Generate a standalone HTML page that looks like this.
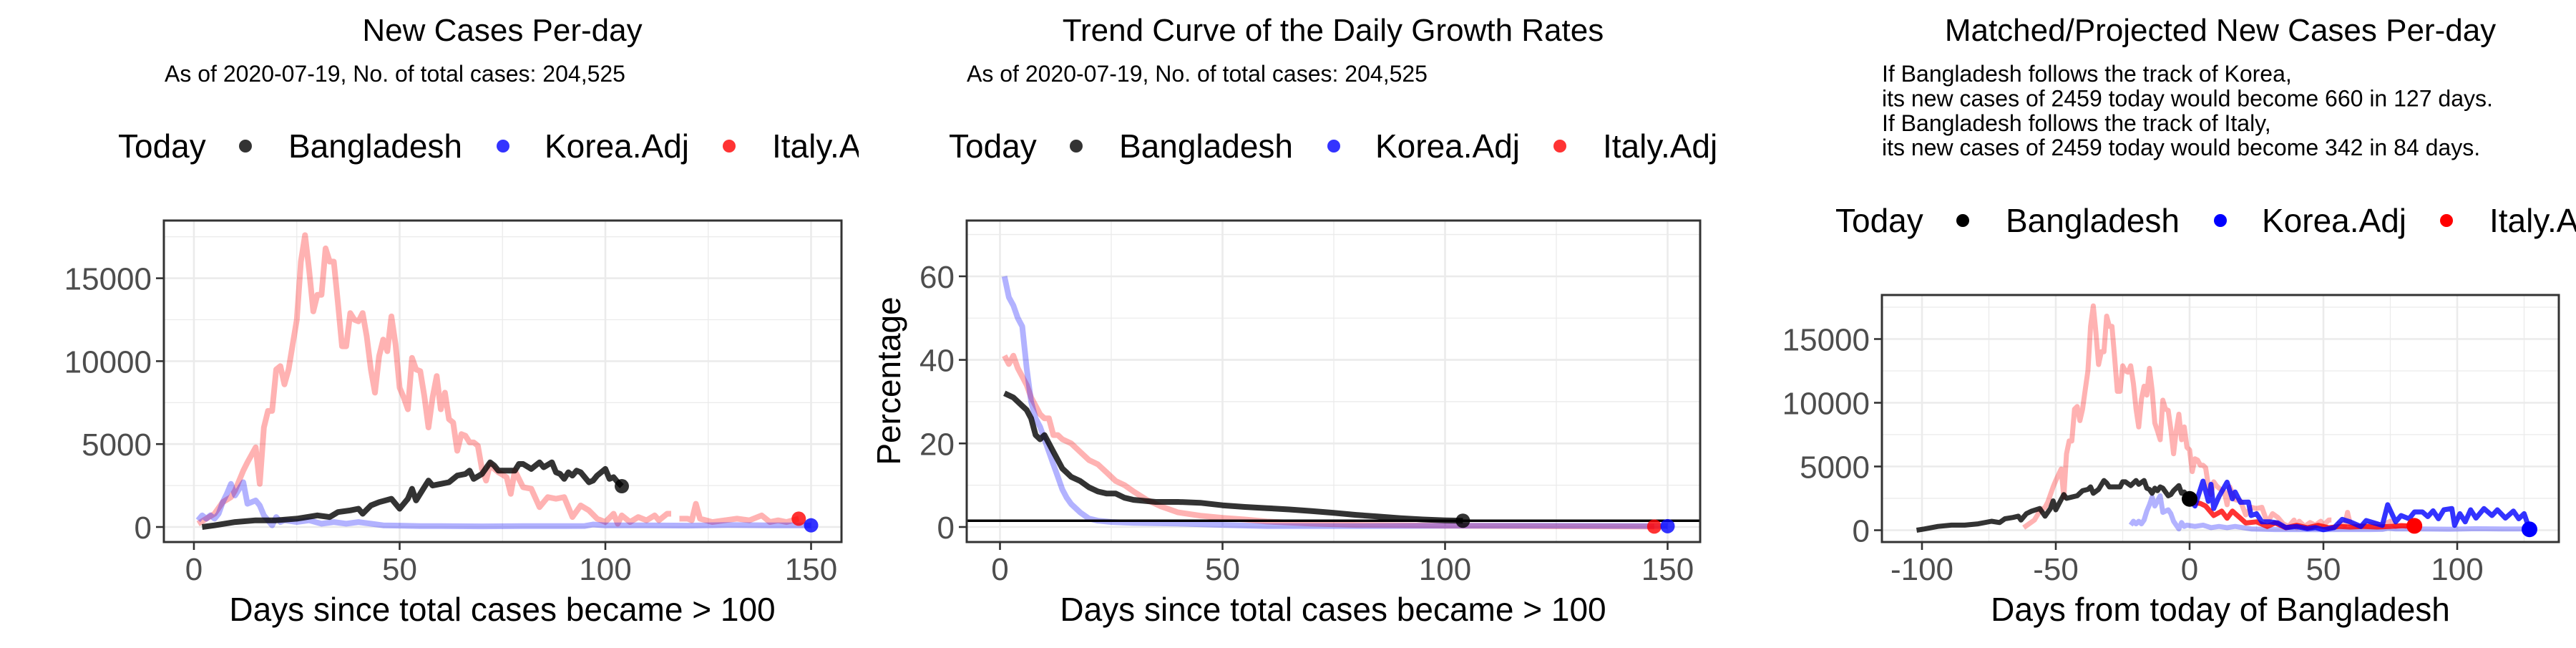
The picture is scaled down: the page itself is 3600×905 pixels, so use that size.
<!DOCTYPE html>
<html><head><meta charset="utf-8">
<style>
html,body{margin:0;padding:0;background:#fff;}
svg text{font-family:"Liberation Sans",Arial,sans-serif;}
</style></head>
<body>
<svg id="root" xmlns="http://www.w3.org/2000/svg" width="3600" height="900" viewBox="0 0 3600 900">
<rect x="0" y="0" width="3600" height="900" fill="#fff"/>
</svg>
<script>
// ---- Panel 1 data: new cases per day ----
const bdDays = [2,5,10,15,20,25,30,33,35,38,40,41,43,45,48,50,52,53,54,56,57,58,60,62,64,66,67,68,70,72,73,74,76,78,79,80,82,83,84,85,87,88,89,90,91,92,93,94,96,97,98,100,101,102,103,104];
const bdVals = [0,100,300,400,400,500,700,600,900,1000,1100,800,1300,1500,1700,1100,1700,2300,1600,2400,2800,2500,2600,2700,3100,3200,3400,2900,3200,3900,3700,3400,3400,3400,3800,3800,3500,3700,3900,3600,3900,3300,3200,2900,3300,3100,3400,3300,2700,2800,3100,3500,2900,3000,2700,2459];
const itDays = [1,3,5,7,9,10,12,13,15,16,17,18,19,20,21,22,23,24,25,26,27,28,29,30,31,32,33,34,35,36,37,38,39,40,41,42,43,44,45,46,47,48,49,50,51,52,53,54,55,56,57,58,59,60,61,62,63,64,65,66,67,68,69,70,71,72,73,74,76,77,78,80,82,84,86,88,90,92,94,96,98,100,102,103,104,106,108,110,112,113,115,116,117,118,120,121,122,123,126,129,132,135,138,140,142,144,147];
const itVals = [200,500,800,1500,1800,2200,3400,3900,4800,2600,6000,7000,7000,9500,9700,8600,9500,11000,12500,16000,17600,15500,13000,14000,14000,16800,16000,16000,13500,10900,10900,12900,12500,12400,12900,11500,9500,8100,10300,11300,10600,12700,11000,8400,7800,7100,10200,9500,9400,7900,6000,7800,9100,7100,8100,6500,6300,4600,5600,5500,5100,5100,4900,3500,2800,3800,3500,3300,3000,2000,3400,2400,2300,1200,1800,1700,1800,600,1300,1000,500,300,800,200,700,300,600,400,700,400,800,800,null,500,500,400,1400,500,300,400,500,400,700,300,400,300,500];
const koDays = [1,2,3,4,5,6,7,8,9,10,11,12,13,14,15,16,17,18,19,20,21,22,25,28,31,34,37,40,43,46,50,55,60,70,80,90,95,97,100,110,120,130,140,150];
const koVals = [400,700,500,700,500,800,1500,2000,2600,1900,2300,2700,1400,1500,1600,1300,700,400,100,600,300,400,300,400,200,300,200,300,200,100,80,50,50,40,50,50,60,150,100,100,80,120,100,100];
const casesTicks = [0,5000,10000,15000];
const dayTicks = [0,50,100,150];
// ---- Panel 2 data: growth rates (%) ----
const bdRateDays = [1,3,5,6,7,8,9,10,11,12,13,14,15,16,18,20,22,24,26,28,30,35,40,45,50,55,60,65,70,75,80,85,90,95,100,104];
const bdRate = [32,31,29,28,26,22,21,22,20,18,16,14,13,12,11,9.5,8.5,8,8,7,6.5,6,6,5.8,5.2,4.8,4.5,4.2,3.8,3.4,2.9,2.5,2.1,1.8,1.6,1.5];
const koRateDays = [1,2,3,4,5,6,7,8,9,10,11,12,13,14,15,16,17,18,20,22,25,30,40,50,60,80,100,120,150];
const koRate = [60,55,53,50,48,38,30,26,24,21,18,15,12,9,7,5.5,4.5,3.5,2,1.5,1.2,1,0.8,0.5,0.2,0.2,0.3,0.3,0.2];
const itRateDays = [1,2,3,4,5,6,7,8,9,10,11,12,13,14,16,18,20,22,24,26,28,30,33,36,40,45,50,55,60,70,80,100,120,147];
const itRate = [41,39,41,38,36,34,31,29,27,26,26,22,22,21,20,18,16,15,13,11,10,8.5,6.5,5,3.5,2.7,2.2,1.8,1.3,0.8,0.5,0.3,0.2,0.1];
const rateTicks = [0,20,40,60];
const refRate = 1.5;
// ---- Panel 3 data: matched / projected ----
const bdShift = -104, itShift = -63, koShift = -23;
const koProjDays = [0,2,5,7,8,9,11,14,16,17,19,22,23,25,27,30,33,36,40,44,47,50,54,57,60,64,66,69,72,74,77,79,82,84,87,89,91,93,95,98,99,101,103,105,107,110,113,115,118,121,123,125,127];
const koProj = [2459,1900,3850,2270,3600,1700,2650,3770,2460,3000,2190,2200,1150,1300,660,660,570,200,290,120,200,40,200,850,660,290,760,570,380,2000,660,1150,900,1430,1430,1070,1520,900,1600,1700,380,1300,660,1600,950,1700,1150,1600,950,1500,900,1300,70];
const itProjDays = [0,1,4,6,9,12,14,16,19,21,25,29,32,36,40,44,48,52,56,60,65,70,75,80,84];
const itProj = [2459,2180,2100,1900,1150,1500,940,1500,940,570,660,290,570,190,380,190,380,190,300,250,300,250,300,350,342];
const matchTicks = [-100,-50,0,50,100];

const NS = "http://www.w3.org/2000/svg";
const root = document.getElementById('root');
function mk(tag, attrs, parent){
  const e = document.createElementNS(NS, tag);
  for (const k in attrs) e.setAttribute(k, attrs[k]);
  (parent||root).appendChild(e);
  return e;
}
function txt(s, attrs, parent){ const e = mk('text', attrs, parent); e.textContent = s; return e; }

function makePanel(ox, name){
  const g = mk('svg', {x:ox, y:0, width:1200, height:900, overflow:'hidden'});
  
  
  return g;
}
function linePath(days, vals, sx, sy, shift){
  let d = '', pen = false;
  for (let i=0;i<days.length;i++){
    if (vals[i]===null){ pen=false; continue; }
    const x = sx(days[i]+shift), y = sy(vals[i]);
    d += (pen?'L':'M') + x.toFixed(1) + ',' + y.toFixed(1);
    pen = true;
  }
  return d;
}
function frame(g, P, xt, xminor, yt, yminor, ylabels){
  const clip = mk('clipPath', {id:'clip'+P.id}, g);
  mk('rect', {x:P.l, y:P.t, width:P.r-P.l, height:P.b-P.t}, clip);
  const grid = mk('g', {}, g);
  
  
  xminor.forEach(v=>mk('line',{x1:P.x(v),x2:P.x(v),y1:P.t,y2:P.b,stroke:'#ebebeb','stroke-width':1.3},grid));
  yminor.forEach(v=>mk('line',{y1:P.y(v),y2:P.y(v),x1:P.l,x2:P.r,stroke:'#ebebeb','stroke-width':1.3},grid));
  xt.forEach(v=>mk('line',{x1:P.x(v),x2:P.x(v),y1:P.t,y2:P.b,stroke:'#ebebeb','stroke-width':2.6},grid));
  yt.forEach(v=>mk('line',{y1:P.y(v),y2:P.y(v),x1:P.l,x2:P.r,stroke:'#ebebeb','stroke-width':2.6},grid));
  xt.forEach(v=>{
    mk('line',{x1:P.x(v),x2:P.x(v),y1:P.b,y2:P.b+11,stroke:'#333','stroke-width':2.6},g);
    const t = txt(String(v), {x:P.x(v), y:810, 'font-size':44, fill:'#4d4d4d','text-anchor':'middle'}, g);
    
    
  });
  yt.forEach((v,i)=>{
    mk('line',{x1:P.l-11,x2:P.l,y1:P.y(v),y2:P.y(v),stroke:'#333','stroke-width':2.6},g);
    const t = txt(ylabels[i], {x:P.l-17, y:P.y(v)+16, 'font-size':44, fill:'#4d4d4d','text-anchor':'end'}, g);
    
    
  });
}
function border(g,P){
  const b = mk('rect',{x:P.l,y:P.t,width:P.r-P.l,height:P.b-P.t,fill:'none',stroke:'#333','stroke-width':3},g);
  
  
}
function series(g,P,days,vals,color,w,shift,name){
  const p = mk('path',{d:linePath(days,vals,P.x,P.y,shift||0),fill:'none',stroke:color,'stroke-width':w,'stroke-linejoin':'round','stroke-linecap':'butt','clip-path':'url(#clip'+P.id+')'},g);
  
  
}
function dot(g,P,d,v,color,r,name){
  const c = mk('circle',{cx:P.x(d),cy:P.y(v),r:r,fill:color},g);
  
  
}
function legend(g, lx, base, cols){
  const lg = mk('g',{},g);
  
  
  txt('Today',{x:lx,y:base,'font-size':46,fill:'#000'},lg);
  const items = [['Bangladesh',178,238],['Korea.Adj',538,596],['Italy.Adj',854,914]];
  items.forEach((it,i)=>{
    const c = mk('circle',{cx:lx+it[1],cy:base-16,r:9,fill:cols[i]},lg);
    
    
    const t = txt(it[0],{x:lx+it[2],y:base,'font-size':46,fill:'#000'},lg);
    
    
  });
}
const PINK='rgba(255,0,0,0.3)', LBLUE='rgba(0,0,255,0.3)', DARK='rgba(0,0,0,0.8)';

// ===== Panel 1 =====
{
  const g = makePanel(0,'new-cases-panel');
  const P = {id:1,l:229,r:1176,t:308,b:757,x:d=>271+5.75*d,y:v=>736-v*115.8/5000};
  const t = txt('New Cases Per-day',{x:702,y:57,'font-size':44,'text-anchor':'middle',fill:'#000'},g);
   
  const s = txt('As of 2020-07-19, No. of total cases: 204,525',{x:230,y:114,'font-size':32,fill:'#000'},g);
   
  legend(g,165,220,[DARK,'rgba(0,0,255,0.8)','rgba(255,0,0,0.8)']);
  frame(g,P,dayTicks,[25,75,125],casesTicks,[2500,7500,12500,17500],casesTicks.map(String));
  series(g,P,itDays,itVals,PINK,8,0,'italy-line');
  series(g,P,koDays,koVals,LBLUE,8,0,'korea-line');
  series(g,P,bdDays,bdVals,DARK,8,0,'bangladesh-line');
  dot(g,P,bdDays[bdDays.length-1],bdVals[bdVals.length-1],DARK,10,'bangladesh-today-dot');
  dot(g,P,itDays[itDays.length-1],itVals[itVals.length-1],'rgba(255,0,0,0.8)',10,'italy-today-dot');
  dot(g,P,koDays[koDays.length-1],koVals[koVals.length-1],'rgba(0,0,255,0.8)',10,'korea-today-dot');
  border(g,P);
  const a = txt('Days since total cases became > 100',{x:702,y:867,'font-size':46,'text-anchor':'middle',fill:'#000'},g);
   
}
// ===== Panel 2 =====
{
  const g = makePanel(1200,'growth-rate-panel');
  const P = {id:2,l:151,r:1176,t:308,b:757,x:d=>197.5+6.22*d,y:v=>736-v*5.835};
  const t = txt('Trend Curve of the Daily Growth Rates',{x:663,y:57,'font-size':44,'text-anchor':'middle',fill:'#000'},g);
   
  const s = txt('As of 2020-07-19, No. of total cases: 204,525',{x:151,y:114,'font-size':32,fill:'#000'},g);
   
  legend(g,126,220,[DARK,'rgba(0,0,255,0.8)','rgba(255,0,0,0.8)']);
  frame(g,P,dayTicks,[25,75,125],rateTicks,[10,30,50,70],rateTicks.map(String));
  series(g,P,itRateDays,itRate,PINK,8,0,'italy-rate-line');
  series(g,P,koRateDays,koRate,LBLUE,8,0,'korea-rate-line');
  series(g,P,bdRateDays,bdRate,DARK,8,0,'bangladesh-rate-line');
  const h = mk('line',{x1:P.l,x2:P.r,y1:P.y(refRate),y2:P.y(refRate),stroke:'#000','stroke-width':3.5},g);
   
  dot(g,P,bdRateDays[bdRateDays.length-1],bdRate[bdRate.length-1],DARK,10,'bangladesh-today-dot');
  dot(g,P,itRateDays[itRateDays.length-1],itRate[itRate.length-1],'rgba(255,0,0,0.8)',10,'italy-today-dot');
  dot(g,P,koRateDays[koRateDays.length-1],koRate[koRate.length-1],'rgba(0,0,255,0.8)',10,'korea-today-dot');
  border(g,P);
  const yl = txt('Percentage',{x:0,y:0,'font-size':46,'text-anchor':'middle',fill:'#000',transform:'translate(58,532) rotate(-90)'},g);
   
  const a = txt('Days since total cases became > 100',{x:663,y:867,'font-size':46,'text-anchor':'middle',fill:'#000'},g);
   
}
// ===== Panel 3 =====
{
  const g = makePanel(2400,'projected-cases-panel');
  const P = {id:3,l:230,r:1176,t:412,b:757,x:d=>660+3.74*d,y:v=>740.5-v*0.0178};
  const t = txt('Matched/Projected New Cases Per-day',{x:703,y:57,'font-size':44,'text-anchor':'middle',fill:'#000'},g);
   
  const lines = ['If Bangladesh follows the track of Korea,','its new cases of 2459 today would become 660 in 127 days.','If Bangladesh follows the track of Italy,','its new cases of 2459 today would become 342 in 84 days.'];
  lines.forEach((l,i)=>{
    const s = txt(l,{x:230,y:114+i*34.4,'font-size':32,fill:'#000'},g);
     
  });
  legend(g,165,324,['#000','#0000ff','#ff0000']);
  frame(g,P,matchTicks,[-75,-25,25,75,125],casesTicks,[2500,7500,12500,17500],casesTicks.map(String));
  series(g,P,itDays,itVals,PINK,7,itShift,'italy-matched-line');
  series(g,P,koDays,koVals,LBLUE,7,koShift,'korea-matched-line');
  series(g,P,bdDays,bdVals,DARK,7,bdShift,'bangladesh-line');
  series(g,P,itProjDays,itProj,'rgba(255,0,0,0.8)',7,0,'italy-projection-line');
  series(g,P,koProjDays,koProj,'rgba(0,0,255,0.8)',7,0,'korea-projection-line');
  dot(g,P,0,bdVals[bdVals.length-1],'#000',11,'bangladesh-today-dot');
  dot(g,P,itProjDays[itProjDays.length-1],itProj[itProj.length-1],'#ff0000',11,'italy-projected-dot');
  dot(g,P,koProjDays[koProjDays.length-1],koProj[koProj.length-1],'#0000ff',11,'korea-projected-dot');
  border(g,P);
  const a = txt('Days from today of Bangladesh',{x:703,y:867,'font-size':46,'text-anchor':'middle',fill:'#000'},g);
   
}
</script>
</body></html>
